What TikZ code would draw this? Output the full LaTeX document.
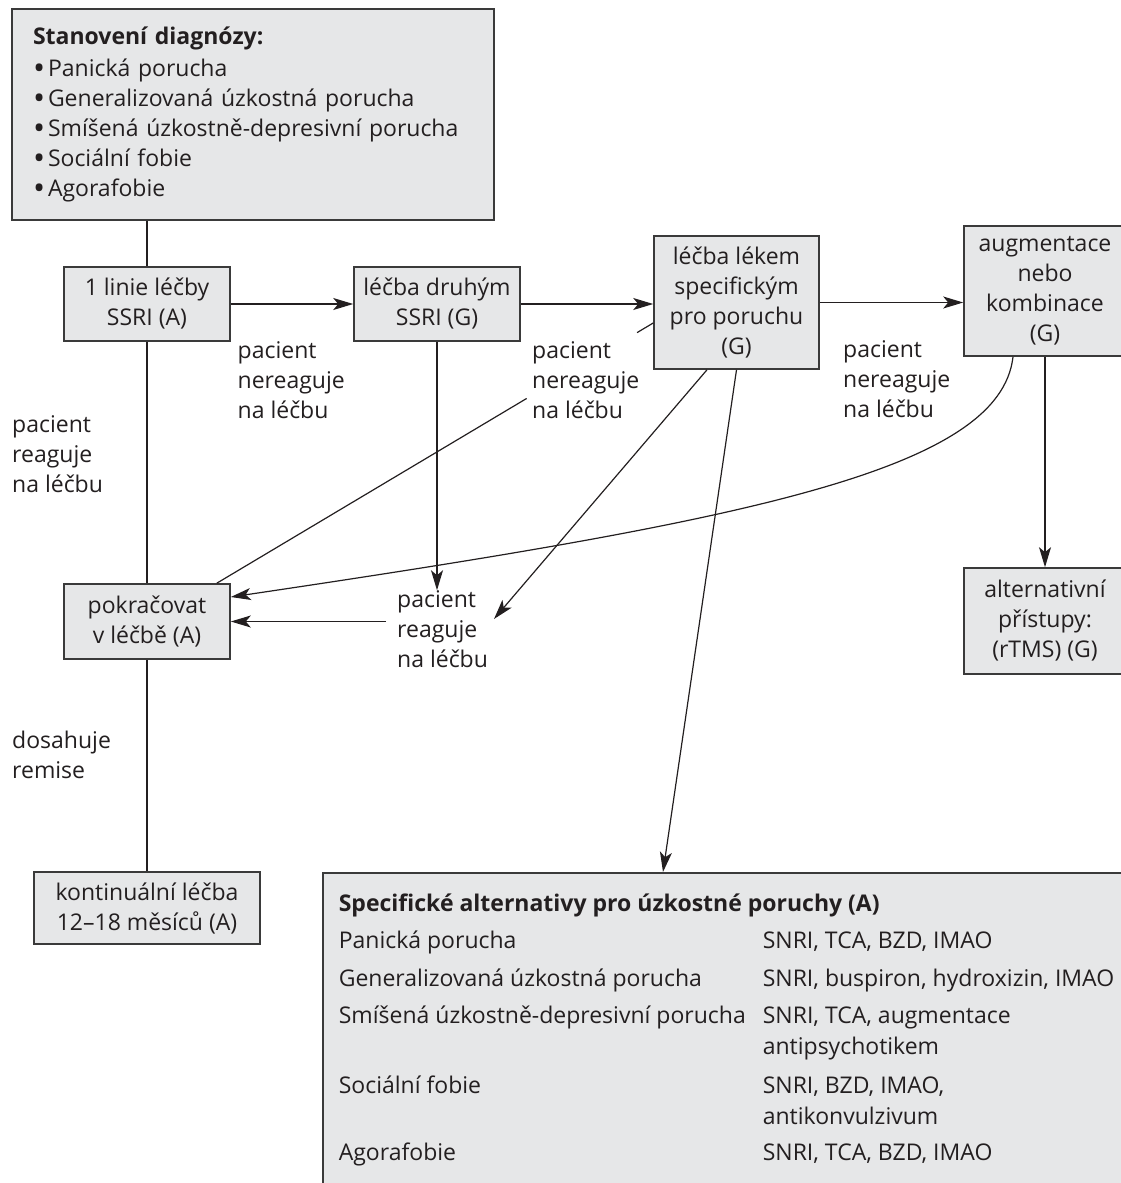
\documentclass[tikz,border=0pt]{standalone}
\usepackage{fontspec}
\usepackage{graphicx}
\setmainfont{Open Sans}
\usetikzlibrary{arrows.meta,calc}
\definecolor{ink}{HTML}{231F20}
\definecolor{boxfill}{HTML}{E6E7E8}
\definecolor{boxline}{HTML}{3A3A3A}
\newcommand\mainfs{\fontsize{23}{30}\selectfont}
\newcommand\tabfs{\fontsize{23}{31}\selectfont}
\newcommand\cella[1]{\makebox[424pt][l]{#1}}
\newcommand\bul{\makebox[15pt][l]{\raisebox{-2.6pt}{\scalebox{1.4}{•}}}}

\begin{document}
\begin{tikzpicture}[x=1pt,y=-1pt,
  box/.style={draw=boxline, fill=boxfill, line width=1.6pt, inner sep=0pt,
              align=center, font=\mainfs, text=ink},
  lbl/.style={inner sep=0pt, align=left, anchor=west, font=\mainfs, text=ink},
  conn/.style={line width=1.2pt, draw=ink},
  arr/.style={conn, -{Stealth[length=20pt,width=12pt,inset=5pt]}}]
\useasboundingbox (0,0) rectangle (1121,1183);

% diagnosis box
\node[box, minimum width=482pt, minimum height=211pt, text width=440pt, align=left]
  (diag) at (253,114.5)
  {\textbf{Stanovení diagnózy:}\\[2pt]
   \bul Panická porucha\\
   \bul Generalizovaná úzkostná porucha\\
   \bul Smíšená úzkostně-depresivní porucha\\
   \bul Sociální fobie\\
   \bul Agorafobie};

% treatment steps
\node[box, minimum width=166pt, minimum height=74pt] (b1) at (147,304)
  {1 linie léčby\\SSRI (A)};
\node[box, minimum width=166pt, minimum height=74pt] (b2) at (437,304)
  {léčba druhým\\SSRI (G)};
\node[box, minimum width=165pt, minimum height=133pt] (b3) at (736.5,302.5)
  {léčba lékem\\specifickým\\pro poruchu\\(G)};
\node[box, minimum width=162pt, minimum height=130pt] (b4) at (1045,291)
  {augmentace\\nebo\\kombinace\\(G)};
\node[box, minimum width=162pt, minimum height=106pt] (alt) at (1045,621)
  {alternativní\\přístupy:\\(rTMS) (G)};
\node[box, minimum width=166pt, minimum height=75pt] (pk) at (147,621.5)
  {pokračovat\\v léčbě (A)};
\node[box, minimum width=226pt, minimum height=72pt] (kont) at (147,908)
  {kontinuální léčba\\12–18 měsíců (A)};

% table of specific alternatives
\node[box, anchor=north west, align=left] (spec) at (322,872)
  {\parbox[t][330pt][t]{820pt}{\tabfs\vskip17pt\hspace*{16pt}%
   \begin{tabular}[t]{@{}l@{}l@{}}
   \multicolumn{2}{@{}l@{}}{\bfseries Specifické alternativy pro úzkostné poruchy (A)}\\[6pt]
   \cella{Panická porucha} & SNRI, TCA, BZD, IMAO\\[7pt]
   \cella{Generalizovaná úzkostná porucha} & SNRI, buspiron, hydroxizin, IMAO\\[6pt]
   \cella{Smíšená úzkostně-depresivní porucha} & SNRI, TCA, augmentace\\
    & antipsychotikem\\[8pt]
   \cella{Sociální fobie} & SNRI, BZD, IMAO,\\
    & antikonvulzivum\\[5pt]
   \cella{Agorafobie} & SNRI, TCA, BZD, IMAO
   \end{tabular}}};

% edge labels
\node[lbl] (nr1) at (237.5,380) {pacient\\nereaguje\\na léčbu};
\node[lbl] (nr2) at (532,380) {pacient\\nereaguje\\na léčbu};
\node[lbl] (nr3) at (843,379) {pacient\\nereaguje\\na léčbu};
\node[lbl] (r0) at (12,454) {pacient\\reaguje\\na léčbu};
\node[lbl] (rem) at (12,755) {dosahuje\\remise};
\node[lbl] (rg) at (397,629) {pacient\\reaguje\\na léčbu};

% free ends
\coordinate (t1) at (494,619);
\coordinate (t2) at (663,872);
\coordinate (d0) at ([xshift=-14pt]pk.north east);
\coordinate (d1) at ([yshift=-20.5pt]b3.west);

% main vertical line
\draw[conn] (diag.south -| b1.north) -- (b1.north);
\draw[conn] (b1) -- (pk);
\draw[conn] (pk) -- (kont);

% forward chain
\draw[arr] (b1.east) -- (b2.west);
\draw[arr] (b2.east) -- (b2.east -| b3.west);
\draw[arr] (b3.east) -- (b3.east -| b4.west);
\draw[arr] (b4.south) -- (alt.north);

% responses
\draw[arr] (b2.south) -- (b2.south |- rg.north);
\draw[arr] ([xshift=-11pt]rg.west |- pk.east) -- (pk.east);
\draw[arr] ([xshift=-29.5pt]b3.south) -- (t1);
\draw[arr] (b3.south) -- (t2);
\draw[arr] ([xshift=-32pt]b4.south) .. controls (1000,470) and (750,520)
  .. ([yshift=24.5pt]pk.east);
\draw[conn] (d0) -- ($(d0)!0.71!(d1)$);
\draw[conn] ($(d0)!0.963!(d1)$) -- (d1);
\end{tikzpicture}
\end{document}
